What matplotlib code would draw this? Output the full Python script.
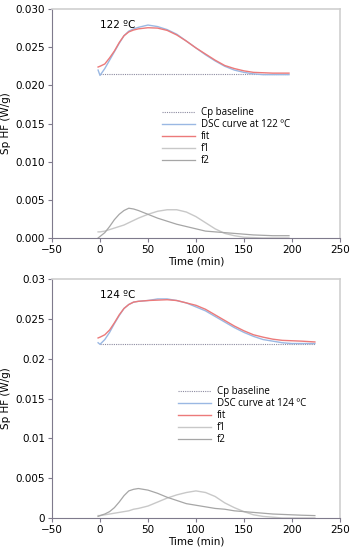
import matplotlib
matplotlib.use("Agg")
import matplotlib.pyplot as plt
import matplotlib.ticker as ticker

# ---- panel 1: 122 C ----
t1 = [-2, 0, 5, 10, 15, 20, 25, 30, 35, 40, 50, 60, 70, 80, 90, 100, 110, 120, 130, 140,
      150, 160, 170, 180, 197]
dsc1 = [0.0220, 0.0213, 0.0222, 0.0233, 0.0244, 0.0255, 0.0265, 0.0271, 0.0274, 0.0276, 0.0279,
        0.0277, 0.0273, 0.0267, 0.0258, 0.0249, 0.0240, 0.0232, 0.0225, 0.0220, 0.0217, 0.0215,
        0.0214, 0.0214, 0.0214]
fit1 = [0.0224, 0.0225, 0.0228, 0.0236, 0.0245, 0.0256, 0.0265, 0.0270, 0.02725, 0.0274, 0.02755,
        0.0275, 0.0272, 0.0266, 0.0258, 0.0249, 0.0241, 0.0233, 0.0226, 0.0222, 0.0219, 0.0217,
        0.02165, 0.0216, 0.0216]
base1 = [0.02145] * len(t1)
f1_1 = [0.0008, 0.0008, 0.0009, 0.0011, 0.0013, 0.0015, 0.0017, 0.0020, 0.0023, 0.0026, 0.0031,
        0.0035, 0.0037, 0.0037, 0.0034, 0.0028, 0.0020, 0.0012, 0.0006, 0.0003, 0.0001, 0.00005,
        0.0, 0.0, 0.0]
f2_1 = [0.0000, 0.0002, 0.0007, 0.0015, 0.0024, 0.0031, 0.0036, 0.0039, 0.0038, 0.0036, 0.0031,
        0.0026, 0.0022, 0.0018, 0.0015, 0.0012, 0.0009, 0.0008, 0.0007, 0.0006, 0.0005, 0.0004,
        0.00035, 0.0003, 0.0003]

# ---- panel 2: 124 C ----
t2 = [-2, 0, 5, 10, 15, 20, 25, 30, 35, 40, 50, 60, 70, 80, 90, 100, 110, 120, 130, 140,
      150, 160, 170, 180, 190, 200, 210, 224]
dsc2 = [0.0220, 0.0218, 0.0224, 0.0233, 0.0244, 0.0254, 0.0263, 0.0268, 0.0271, 0.0272, 0.0273,
        0.0275, 0.0275, 0.0273, 0.0270, 0.0265, 0.0260, 0.0253, 0.0246, 0.0239, 0.0233, 0.0228,
        0.0224, 0.0222, 0.0220, 0.0219, 0.0219, 0.0219]
fit2 = [0.0226, 0.0227, 0.0230, 0.0236, 0.0245, 0.0255, 0.0263, 0.0268, 0.0271, 0.0272, 0.0273,
        0.02735, 0.0274, 0.0273, 0.0270, 0.0267, 0.0262, 0.0255, 0.0248, 0.0241, 0.0235, 0.0230,
        0.0227, 0.02245, 0.0223, 0.02225, 0.0222, 0.0221]
base2 = [0.0219] * len(t2)
f1_2 = [0.0003, 0.0003, 0.0004, 0.0005, 0.0006, 0.0007, 0.0008, 0.0009, 0.0011, 0.0012, 0.0015,
        0.0020, 0.0025, 0.0029, 0.0032, 0.0034, 0.0032, 0.0027, 0.0019, 0.0013, 0.0008, 0.0004,
        0.0002, 0.0001, 0.0, 0.0, 0.0, 0.0]
f2_2 = [0.0002, 0.0003, 0.0005, 0.0008, 0.0013, 0.0020, 0.0028, 0.0034, 0.0036, 0.0037, 0.0035,
        0.0031, 0.0026, 0.0022, 0.0018, 0.0016, 0.0014, 0.0012, 0.0011, 0.0009, 0.0008, 0.0007,
        0.0006, 0.0005, 0.00045, 0.0004, 0.00035, 0.0003]

panels = [
    (t1, dsc1, fit1, base1, f1_1, f2_1, "122"),
    (t2, dsc2, fit2, base2, f1_2, f2_2, "124"),
]

plt.rcParams['font.family'] = ['DejaVu Sans']
fig = plt.figure(figsize=(3.54, 5.5), dpi=100)
rects = [[0.147, 0.5673, 0.813, 0.4163], [0.147, 0.0582, 0.813, 0.4345]]
legend_pos = [(0.382, 0.572), (0.4375, 0.552)]
label_y = [0.0279, 0.0280]

for i, (t, dsc, fit, base, f1, f2, temp) in enumerate(panels):
    ax = fig.add_axes(rects[i])
    ax.plot(t[1:], base[1:], color='#8c8aa0', lw=0.8, ls=(0, (1, 1)), label='Cp baseline')
    ax.plot(t, dsc, color='#9ab8e3', lw=1.0, label='DSC curve at %s ºC' % temp)
    ax.plot(t, fit, color='#ec7a7a', lw=1.0, label='fit')
    ax.plot(t, f1, color='#c8c8c8', lw=1.0, label='f1')
    ax.plot(t, f2, color='#a6a6a6', lw=0.9, label='f2')
    ax.text(0, label_y[i], '%s ºC' % temp, fontsize=7.5, va='center', ha='left')

    ax.set_xlim(-50, 250)
    ax.set_ylim(0, 0.030)
    ax.set_xticks([-50, 0, 50, 100, 150, 200, 250])
    ax.set_yticks([0, 0.005, 0.010, 0.015, 0.020, 0.025, 0.030])
    if i == 0:
        ax.yaxis.set_major_formatter(ticker.FormatStrFormatter('%.3f'))
    else:
        ax.yaxis.set_major_formatter(ticker.FuncFormatter(lambda v, p: '{0:g}'.format(round(v, 4))))
    ax.tick_params(labelsize=7.5, length=3, width=0.8, color='#7f7a8c', pad=2)
    for s in ['left', 'bottom']:
        ax.spines[s].set_color('#7f7a8c')
    for s in ['top', 'right']:
        ax.spines[s].set_color('#cfcfcf')
        ax.spines[s].set_linewidth(1.2)
    ax.set_xlabel('Time (min)', fontsize=7.5, labelpad=1)
    ax.set_ylabel('Sp HF (W/g)', fontsize=7.5, labelpad=3)

    leg = ax.legend(loc='upper left', bbox_to_anchor=legend_pos[i], frameon=False,
                    handlelength=3.4, handletextpad=0.6, labelspacing=0.1,
                    borderpad=0, borderaxespad=0, prop={'family': 'Open Sans', 'size': 7})

fig.savefig('out.png', dpi=100)
